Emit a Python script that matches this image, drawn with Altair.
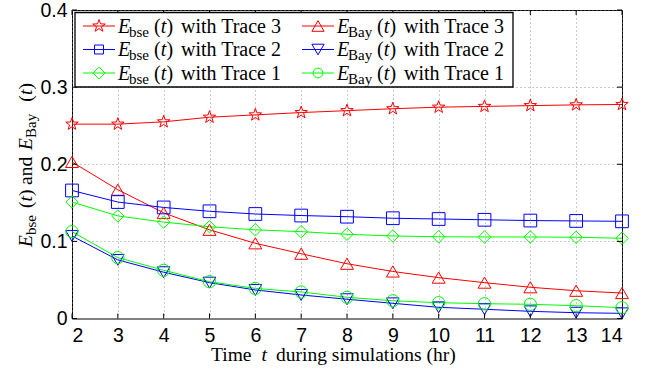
import math
import altair as alt
import pandas as pd

# ---------------- data ----------------
hours = list(range(2, 15))
ebse_trace3 = [0.252, 0.252, 0.255, 0.261, 0.264, 0.267, 0.2695, 0.272, 0.274, 0.275, 0.276, 0.277, 0.2775]
ebay_trace3 = [0.203, 0.167, 0.137, 0.115, 0.0975, 0.084, 0.071, 0.061, 0.053, 0.0465, 0.0405, 0.036, 0.033]
ebse_trace2 = [0.166, 0.151, 0.144, 0.139, 0.1355, 0.1335, 0.132, 0.130, 0.129, 0.128, 0.127, 0.1265, 0.126]
ebay_trace2 = [0.107, 0.076, 0.060, 0.0465, 0.037, 0.0305, 0.025, 0.0197, 0.0145, 0.012, 0.0093, 0.0075, 0.0067]
ebse_trace1 = [0.151, 0.133, 0.125, 0.119, 0.115, 0.1126, 0.1092, 0.107, 0.106, 0.1057, 0.1057, 0.1053, 0.104]
ebay_trace1 = [0.1126, 0.079, 0.0625, 0.0477, 0.039, 0.0344, 0.0275, 0.023, 0.0205, 0.0192, 0.0184, 0.0166, 0.014]
y_ticks = [0, 0.1, 0.2, 0.3, 0.4]
series_names = ["Ebse T3", "EBay T3", "Ebse T2", "EBay T2", "Ebse T1", "EBay T1"]
series_sub = ["bse", "Bay", "bse", "Bay", "bse", "Bay"]
series_trace = ["3", "3", "2", "2", "1", "1"]
series_values = [ebse_trace3, ebay_trace3, ebse_trace2, ebay_trace2, ebse_trace1, ebay_trace1]

# ---------------- styles ----------------
W, H = 550, 308.5
SERIF = "'Liberation Serif', 'Times New Roman', 'DejaVu Serif', serif"
SANS = "'Liberation Sans', Arial, sans-serif"
FS = 20
TFS = 19.5
SUBFS = 15


def star_path(inner=0.4):
    pts = []
    for k in range(10):
        a = -math.pi / 2 + k * math.pi / 5
        r = 1.0 if k % 2 == 0 else inner
        pts.append(f"{r * math.cos(a):.3f},{r * math.sin(a):.3f}")
    return "M" + "L".join(pts) + "Z"


colors = ["#ff0000", "#ff0000", "#0000ff", "#0000ff", "#00ff00", "#00ff00"]
shapes = [star_path(), "triangle-up", "square", "triangle-down", "diamond", "circle"]
sizes = [170, 150, 80, 150, 140, 95]

rows = []
for name, vals in zip(series_names, series_values):
    for t, v in zip(hours, vals):
        rows.append({"t": t, "v": v, "s": name})
df = pd.DataFrame(rows)

X = alt.X("t:Q", scale=alt.Scale(domain=[2, 14], nice=False),
          axis=alt.Axis(values=hours, title=None, labelPadding=7.5, format="d"))
Y = alt.Y("v:Q", scale=alt.Scale(domain=[0, 0.4], nice=False),
          axis=alt.Axis(values=y_ticks, title=None, labelPadding=5, format="~g"))
C = alt.Color("s:N", scale=alt.Scale(domain=series_names, range=colors), legend=None)
S = alt.Shape("s:N", scale=alt.Scale(domain=series_names, range=shapes), legend=None)
Z = alt.Size("s:N", scale=alt.Scale(domain=series_names, range=sizes), legend=None)

base = alt.Chart(df)
lines = base.mark_line(strokeWidth=1).encode(x=X, y=Y, color=C)
points = base.mark_point(filled=False, strokeWidth=1, opacity=1).encode(x=X, y=Y, color=C, shape=S, size=Z)

# inward ticks (matlab box style)
xt = alt.Chart(pd.DataFrame({"t": hours}))
yt = alt.Chart(pd.DataFrame({"v": y_ticks}))
tick_b = xt.mark_rule(color="black", strokeWidth=1).encode(x=X, y=alt.value(H), y2=alt.value(H - 5))
tick_t = xt.mark_rule(color="black", strokeWidth=1).encode(x=X, y=alt.value(0), y2=alt.value(5))
tick_l = yt.mark_rule(color="black", strokeWidth=1).encode(y=Y, x=alt.value(0), x2=alt.value(5))
tick_r = yt.mark_rule(color="black", strokeWidth=1).encode(y=Y, x=alt.value(W - 5), x2=alt.value(W))

# ---------------- legend (manual, to allow subscripts) ----------------
one = alt.Chart(pd.DataFrame({"a": [0]}))
leg_box = one.mark_rect(fill="white", stroke="black", strokeWidth=1.3).encode(
    x=alt.value(3), x2=alt.value(441), y=alt.value(2.5), y2=alt.value(77))

row_y = [16, 39.5, 63]
leg_items, ital, normal, sub = [], [], [], []
for i, name in enumerate(series_names):
    col, row = i % 2, i // 2
    yc = row_y[row]
    xm = 27 + 219 * col
    xe = 46 + 219 * col
    leg_items.append({"x1": xm - 16, "x2": xm + 16, "xm": xm, "yc": yc,
                      "col": colors[i], "shp": shapes[i], "sz": sizes[i]})
    base_y = yc + 6.5
    ital.append({"txt": "E", "px": xe, "py": base_y})
    sub.append({"txt": series_sub[i], "px": xe + 11, "py": base_y + 4})
    p = xe + (36 if series_sub[i] == "bse" else 40)
    normal.append({"txt": "(", "px": p, "py": base_y})
    ital.append({"txt": "t", "px": p + 6.8, "py": base_y})
    normal.append({"txt": ")", "px": p + 12.5, "py": base_y})
    normal.append({"txt": "with Trace " + series_trace[i], "px": p + 27, "py": base_y})

leg_df = pd.DataFrame(leg_items)
PX = alt.X("px:Q", scale=None)
PY = alt.Y("py:Q", scale=None)
leg_lines = alt.Chart(leg_df).mark_rule(strokeWidth=1).encode(
    x=alt.X("x1:Q", scale=None), x2="x2:Q", y=alt.Y("yc:Q", scale=None),
    color=alt.Color("col:N", scale=None))
leg_pts = alt.Chart(leg_df).mark_point(filled=False, strokeWidth=1, opacity=1).encode(
    x=alt.X("xm:Q", scale=None), y=alt.Y("yc:Q", scale=None),
    color=alt.Color("col:N", scale=None), shape=alt.Shape("shp:N", scale=None),
    size=alt.Size("sz:Q", scale=None))

# ---------------- axis titles (manual for italics / subscripts) ----------------
yx = -40
ital_r = [{"txt": "E", "px": yx, "py": 237}, {"txt": "t", "px": yx, "py": 191.5},
          {"txt": "E", "px": yx, "py": 140}, {"txt": "t", "px": yx, "py": 85}]
norm_r = [{"txt": "(", "px": yx, "py": 198}, {"txt": ")", "px": yx, "py": 186},
          {"txt": "and", "px": yx, "py": 175},
          {"txt": "(", "px": yx, "py": 91.7}, {"txt": ")", "px": yx, "py": 79.5}]
sub_r = [{"txt": "bse", "px": yx + 4, "py": 225}, {"txt": "Bay", "px": yx + 4, "py": 128}]

xb = 351
tnormal = [{"txt": "Time", "px": 139, "py": xb},
           {"txt": "during simulations (hr)", "px": 204, "py": xb}]
tital = [{"txt": "t", "px": 189.5, "py": xb}]


def text_layer(rows_, size, style="normal", angle=0):
    kw = dict(font=SERIF, fontSize=size, align="left", baseline="alphabetic", color="black")
    if style == "italic":
        kw["fontStyle"] = "italic"
    if angle:
        kw["angle"] = angle
    return alt.Chart(pd.DataFrame(rows_)).mark_text(**kw).encode(x=PX, y=PY, text="txt:N")


layers = [lines, points, tick_b, tick_t, tick_l, tick_r,
          leg_box, leg_lines, leg_pts,
          text_layer(ital, FS, "italic"), text_layer(normal, FS), text_layer(sub, SUBFS),
          text_layer(tital, TFS, "italic"), text_layer(tnormal, TFS),
          text_layer(ital_r, TFS, "italic", 270), text_layer(norm_r, TFS, "normal", 270),
          text_layer(sub_r, SUBFS, "normal", 270)]

chart = alt.layer(*layers).properties(
    width=W, height=H,
    padding={"left": 72, "top": 10, "right": 40, "bottom": 55},
    autosize=alt.AutoSizeParams(type="none"),
    background="white",
).configure_view(
    stroke="black", strokeWidth=1
).configure_axis(
    grid=True, gridColor="#7f7f7f", gridDash=[1, 3], gridWidth=1, gridOpacity=0.8,
    domain=False, ticks=False,
    labelFont=SANS, labelFontSize=19.5, labelColor="black",
)

chart.save("out.html", embed_options={"renderer": "svg", "actions": False})
